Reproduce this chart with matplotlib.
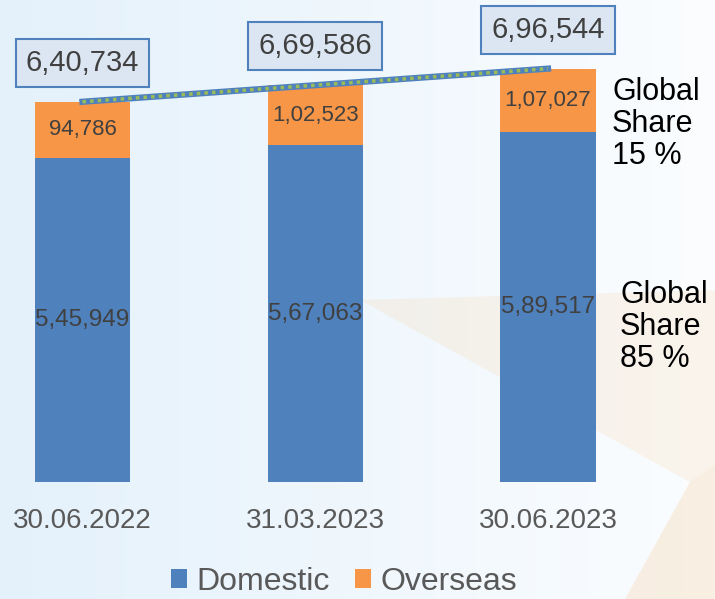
import numpy as np
import matplotlib

matplotlib.use("Agg")
import matplotlib.pyplot as plt
from matplotlib.patches import Polygon

dates = ["30.06.2022", "31.03.2023", "30.06.2023"]
domestic = [545949, 567063, 589517]
overseas = [94786, 102523, 107027]
totals = [640734, 669586, 696544]

BLUE = "#4f81bd"
ORANGE = "#f79646"
FONT = ["Liberation Sans", "DejaVu Sans"]
W, H = 715, 599


def indian_fmt(v):
    s = str(v)
    if len(s) <= 3:
        return s
    head, tail = s[:-3], s[-3:]
    parts = []
    while len(head) > 2:
        parts.insert(0, head[-2:])
        head = head[:-2]
    if head:
        parts.insert(0, head)
    return ",".join(parts + [tail])


def px(x, y):
    # pixel position (from top-left) -> figure fraction
    return x / W, 1 - y / H


fig = plt.figure(figsize=(W / 100, H / 100), dpi=100)

# background gradient + faint star shape
bg = fig.add_axes([0, 0, 1, 1], zorder=-10)
grad = np.linspace(0, 1, 256)[None, :]
bg.imshow(grad, extent=[0, 1, 0, 1], aspect="auto",
          cmap=matplotlib.colors.LinearSegmentedColormap.from_list("bg", ["#e4f1fb", "#fbfdff"]))
bg.add_patch(Polygon([px(360, 300), px(715, 290), px(715, 465), px(690, 482)],
                     closed=True, color="#f8d9b5", alpha=0.25, lw=0))
bg.add_patch(Polygon([px(690, 482), px(715, 465), px(715, 599), px(625, 599)],
                     closed=True, color="#f5cfa3", alpha=0.3, lw=0))
bg.set_xlim(0, 1)
bg.set_ylim(0, 1)
bg.axis("off")

ax = fig.add_axes([0, 117 / H, 1, 482 / H])
ax.patch.set_alpha(0)
x = np.arange(len(dates))
ax.bar(x, domestic, width=0.41, color=BLUE, label="Domestic")
ax.bar(x, overseas, width=0.41, bottom=domestic, color=ORANGE, label="Overseas")

ax.plot(x[[0, -1]], [totals[0], totals[-1]], color=BLUE, lw=4.5, zorder=3)
ax.plot(x[[0, -1]], [totals[0], totals[-1]], color="#9bbb59", lw=2.5, ls=(0, (1, 1.2)), zorder=4)

for i in x:
    ax.text(i, domestic[i] / 2, indian_fmt(domestic[i]), ha="center", va="center",
            fontsize=17.5, color="#404040", family=FONT)
    ax.text(i, domestic[i] + overseas[i] / 2, indian_fmt(overseas[i]), ha="center", va="center",
            fontsize=16, color="#404040", family=FONT)
    ax.annotate(indian_fmt(totals[i]), (i, totals[i]), xytext=(0, 28), textcoords="offset points",
                ha="center", va="center", fontsize=21, color="#404040", family=FONT,
                bbox=dict(boxstyle="square,pad=0.35", fc="#dce6f2", ec=BLUE, lw=1.5))

ax.set_xlim(-82.5 / 232.75, (W - 82.5) / 232.75)
ax.set_ylim(0, 482 * 1685)
ax.axis("off")

for i, d in enumerate(dates):
    fig.text(ax.transData.transform((i, 0))[0] / W, 1 - 521 / H, d, ha="center", va="center",
             fontsize=20, color="#595959", family=FONT)

fig.text(*px(612, 124), "Global\nShare\n15 %", ha="left", va="center",
         fontsize=22, color="black", linespacing=1.08, family=FONT)
fig.text(*px(620, 327), "Global\nShare\n85 %", ha="left", va="center",
         fontsize=22, color="black", linespacing=1.08, family=FONT)

fig.legend(loc="center", bbox_to_anchor=px(344, 582), ncol=2, frameon=False,
           prop={"family": FONT, "size": 23}, handlelength=0.5, handleheight=0.55,
           handletextpad=0.3, columnspacing=0.8, labelcolor="#595959")

fig.savefig("out.png", dpi=100)
